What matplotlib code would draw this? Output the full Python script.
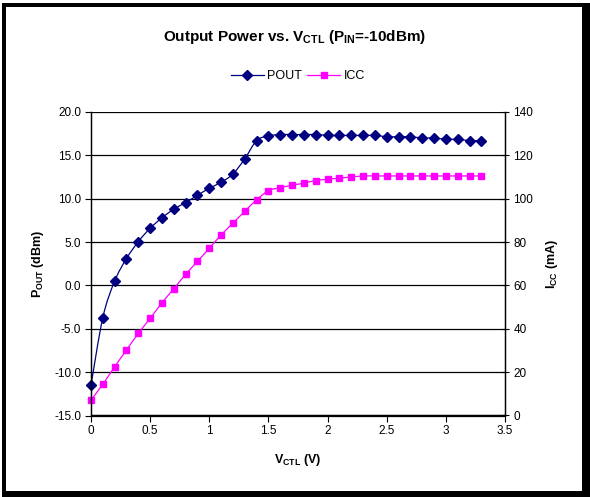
import matplotlib
matplotlib.use("Agg")
import matplotlib.pyplot as plt
from matplotlib.path import Path
from matplotlib.patches import PathPatch, Rectangle
from matplotlib.lines import Line2D
import numpy as np

plt.rcParams['font.family'] = ['Liberation Sans', 'DejaVu Sans']
plt.rcParams['mathtext.fontset'] = 'custom'
plt.rcParams['mathtext.rm'] = 'Liberation Sans'
plt.rcParams['mathtext.bf'] = 'Liberation Sans:bold'

vctl = [0.0, 0.1, 0.2, 0.3, 0.4, 0.5, 0.6, 0.7, 0.8, 0.9, 1.0, 1.1, 1.2, 1.3, 1.4, 1.5, 1.6,
        1.7, 1.8, 1.9, 2.0, 2.1, 2.2, 2.3, 2.4, 2.5, 2.6, 2.7, 2.8, 2.9, 3.0, 3.1, 3.2, 3.3]
pout = [-11.5, -3.7, 0.5, 3.1, 5.05, 6.6, 7.8, 8.8, 9.55, 10.4, 11.2, 11.9, 12.85, 14.6, 16.7,
        17.25, 17.4, 17.4, 17.4, 17.4, 17.3, 17.3, 17.3, 17.3, 17.3, 17.15, 17.15, 17.15, 17.0,
        17.0, 16.85, 16.85, 16.7, 16.7]
icc = [7.1, 14.4, 22.5, 30.2, 37.9, 44.8, 52.0, 58.5, 65.1, 71.1, 77.1, 83.3, 88.7, 94.2, 99.5,
       103.7, 105.1, 106.2, 107.2, 108.4, 109.0, 109.5, 110.0, 110.5, 110.5, 110.5, 110.5, 110.5,
       110.5, 110.5, 110.5, 110.5, 110.5, 110.5]

left_ticks = [-15.0, -10.0, -5.0, 0.0, 5.0, 10.0, 15.0, 20.0]
right_ticks = [0, 20, 40, 60, 80, 100, 120, 140]
x_ticks = [0, 0.5, 1, 1.5, 2, 2.5, 3, 3.5]

NAVY = '#000080'
MAG = '#FF00FF'

W, H = 590, 497
fig = plt.figure(figsize=(W / 100, H / 100), dpi=100)
fig.patch.set_facecolor('white')


def smooth_path(xs, ys):
    p = np.column_stack([xs, ys])
    n = len(p)
    verts = [p[0]]
    codes = [Path.MOVETO]
    for i in range(n - 1):
        p0 = p[i - 1] if i > 0 else p[i]
        p3 = p[i + 2] if i + 2 < n else p[i + 1]
        c1 = p[i] + (p[i + 1] - p0) / 6.0
        c2 = p[i + 1] - (p3 - p[i]) / 6.0
        verts += [c1, c2, p[i + 1]]
        codes += [Path.CURVE4] * 3
    return Path(verts, codes)


ax = fig.add_axes([91 / W, (H - 415.5) / H, (505 - 91) / W, (415.5 - 112) / H])
ax2 = ax.twinx()
# left axis (POUT) drawn on top, right axis (ICC + grid) below
ax.set_zorder(ax2.get_zorder() + 1)
ax.patch.set_visible(False)

ax.set_xlim(0, 3.5)
ax.set_ylim(-15, 20)
ax2.set_ylim(0, 140)
ax.set_xticks(x_ticks)
ax.set_xticklabels([f"{t:g}" for t in x_ticks])
ax.set_yticks(left_ticks)
ax.set_yticklabels([f"{t:.1f}" for t in left_ticks])
ax2.set_yticks(right_ticks)

ax2.grid(axis='y', color='black', linewidth=0.9)
ax2.set_axisbelow(True)
for a in (ax, ax2):
    a.spines['top'].set_visible(False)
    for s in ('left', 'right', 'bottom'):
        a.spines[s].set_color('black')
        a.spines[s].set_linewidth(0.9)

ax.tick_params(axis='both', labelsize=8.5, direction='out', length=4, width=0.8, pad=3)
ax2.tick_params(axis='y', labelsize=8.5, direction='inout', length=6, width=0.8, pad=3)

# ICC on right axis
ax2.add_patch(PathPatch(smooth_path(vctl, icc), facecolor='none', edgecolor=MAG, lw=0.9))
ax2.plot(vctl, icc, linestyle='none', marker='s', markersize=5, color=MAG, clip_on=False)
# POUT on left axis
ax.add_patch(PathPatch(smooth_path(vctl, pout), facecolor='none', edgecolor=NAVY, lw=0.9))
ax.plot(vctl, pout, linestyle='none', marker='D', markersize=5, color=NAVY, clip_on=False)

ax.set_xlabel(r"V$_\mathbf{CTL}$ (V)", fontsize=9, fontweight='bold', labelpad=11)
ax.set_ylabel(r"P$_\mathbf{OUT}$ (dBm)", fontsize=9, fontweight='bold', labelpad=6)
ax2.set_ylabel(r"I$_\mathbf{CC}$ (mA)", fontsize=9, fontweight='bold', labelpad=8)

fig.text(295 / W, 1 - 37 / H, r"Output Power vs. V$_\mathbf{CTL}$ (P$_\mathbf{IN}$=-10dBm)",
         ha='center', va='center', fontsize=11, fontweight='bold')

handles = [Line2D([], [], color=NAVY, lw=0.9, marker='D', markersize=5),
           Line2D([], [], color=MAG, lw=0.9, marker='s', markersize=5)]
fig.legend(handles, ['POUT', 'ICC'], loc='center', bbox_to_anchor=(298 / W, 1 - 76 / H),
           ncol=2, frameon=False, fontsize=9, handlelength=2.6, handletextpad=0.3,
           columnspacing=0.4, borderpad=0)

# outer frame with shadow
for (x0, y0, x1, y1) in [(2, 3, 6, 497), (2, 3, 590, 7), (582, 3, 590, 497), (2, 491, 590, 497)]:
    fig.patches.append(Rectangle((x0 / W, 1 - y1 / H), (x1 - x0) / W, (y1 - y0) / H,
                                 transform=fig.transFigure, facecolor='black',
                                 edgecolor='none', zorder=10))

fig.savefig('out.png', dpi=100)
